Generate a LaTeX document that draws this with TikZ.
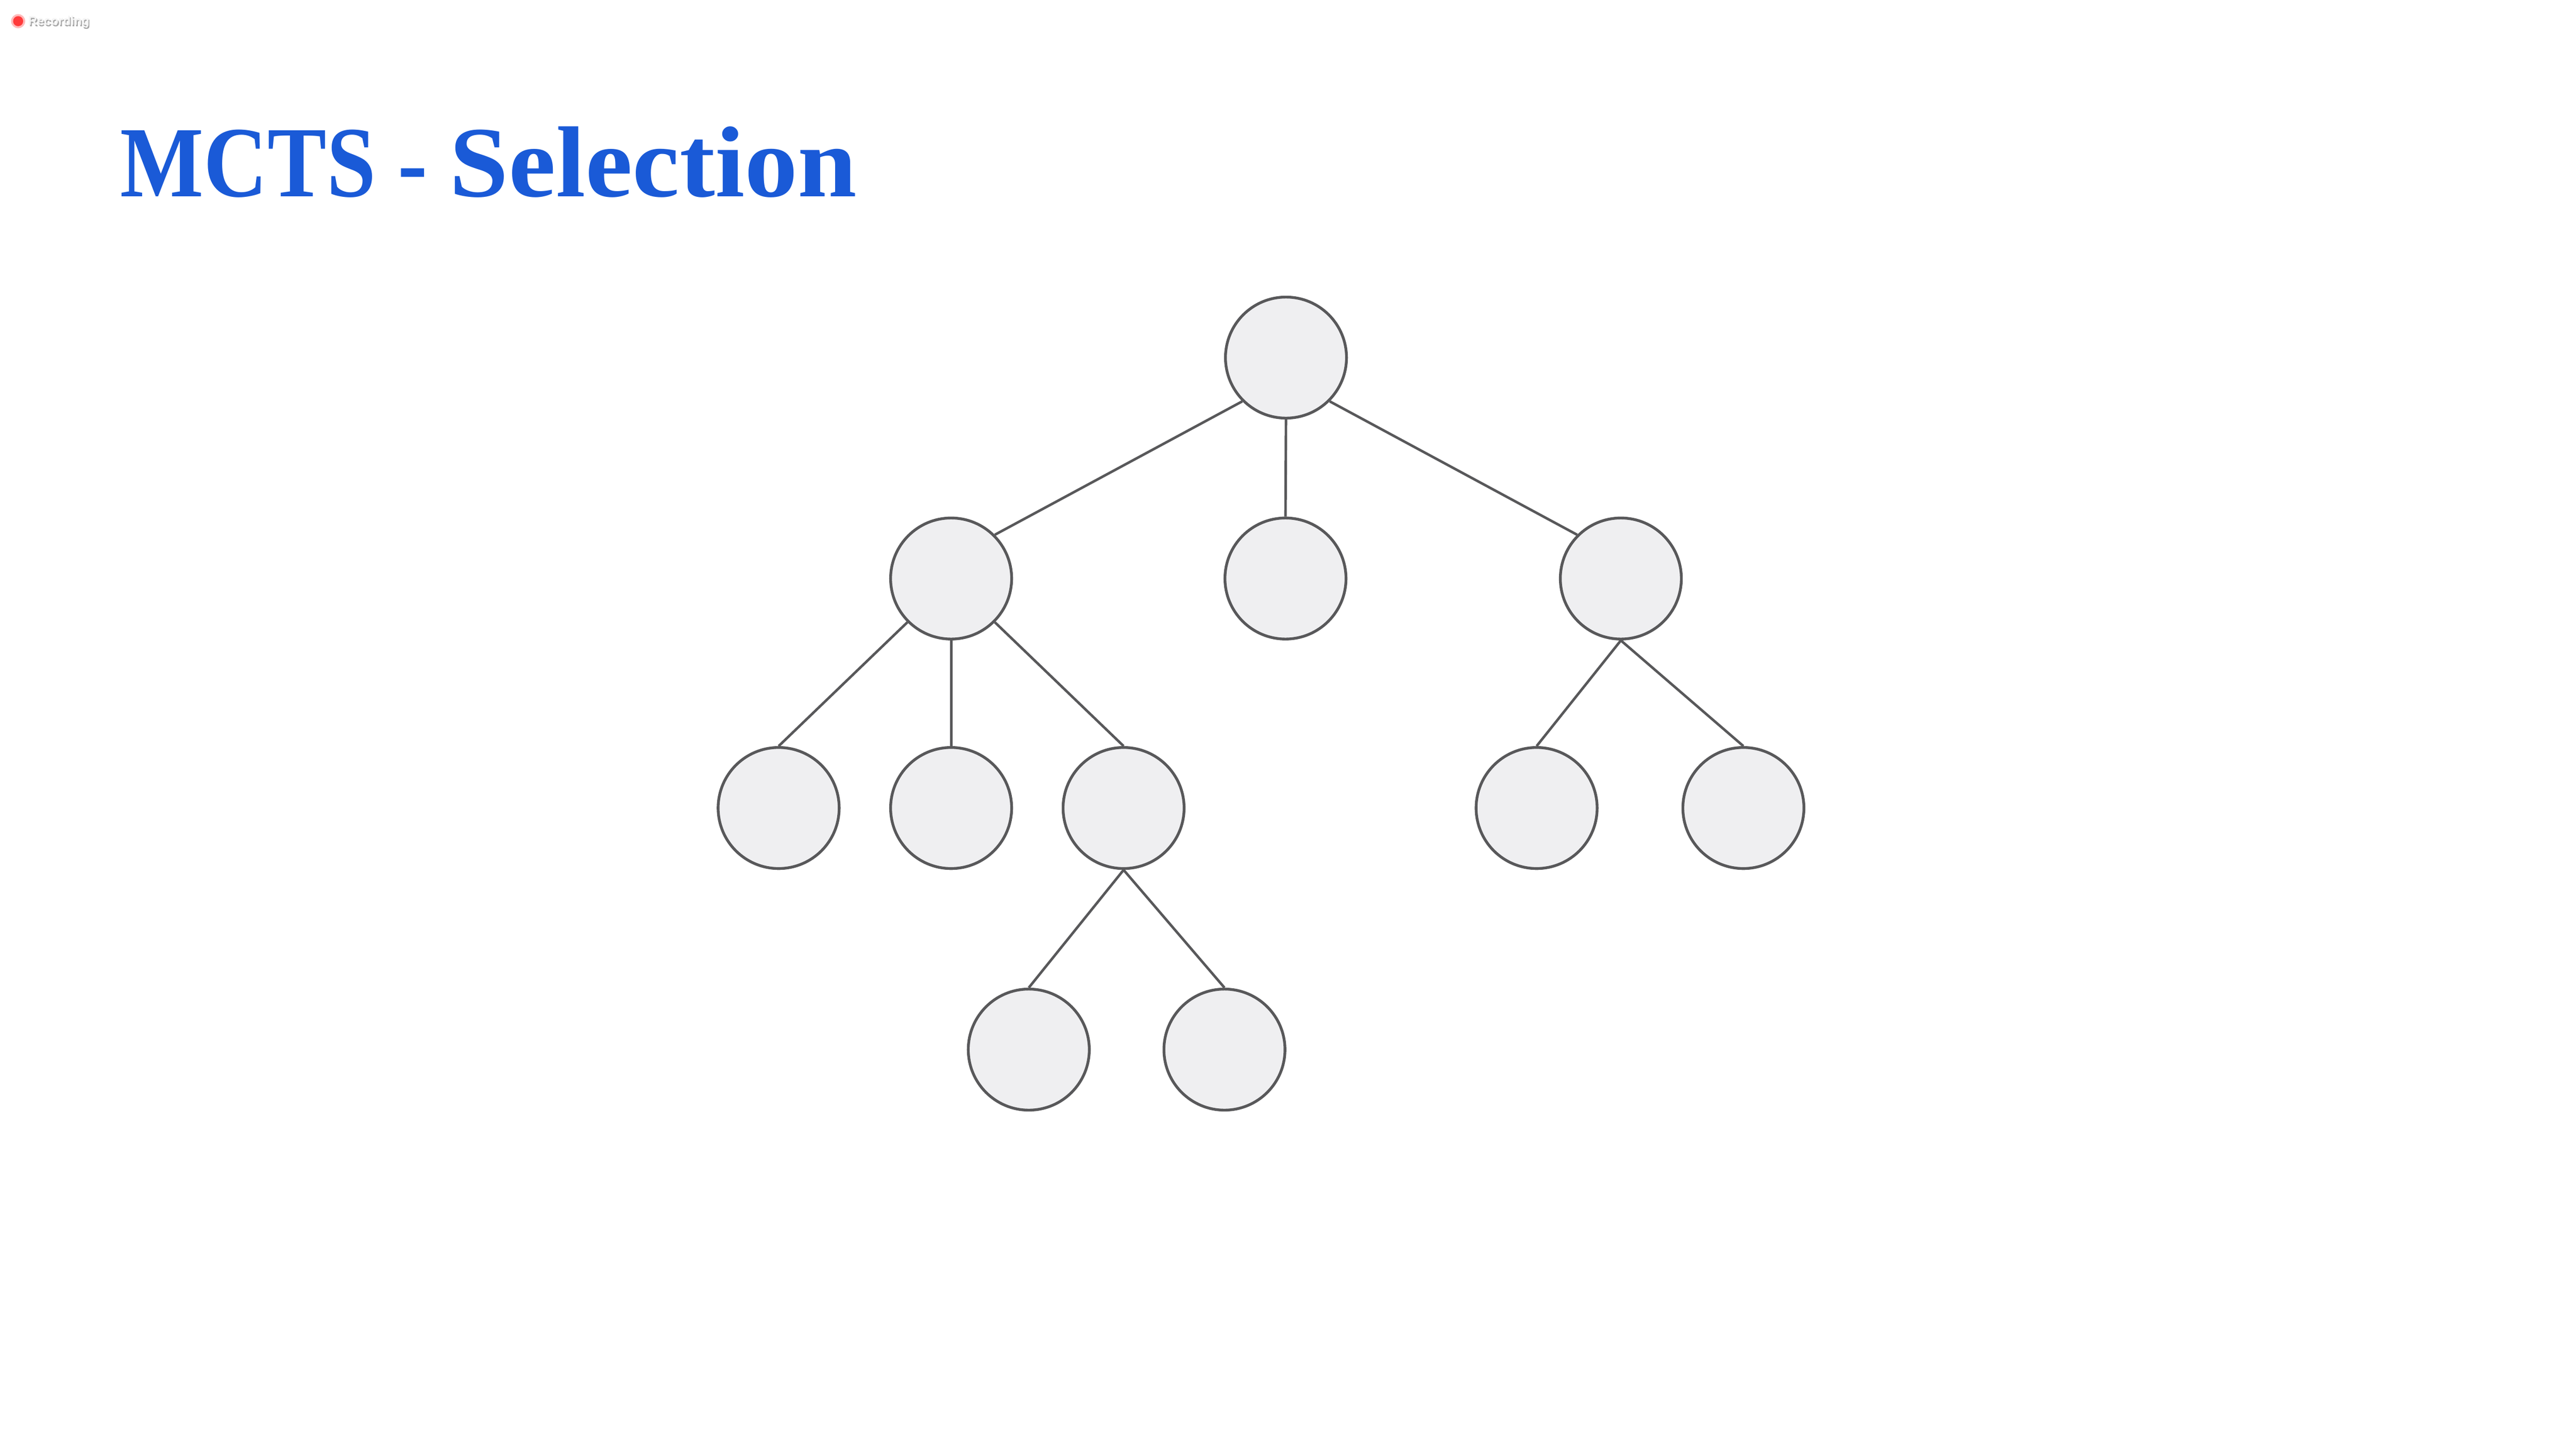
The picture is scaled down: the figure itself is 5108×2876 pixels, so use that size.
\documentclass[tikz,border=0pt]{standalone}
\usepackage{fontspec}
\setmainfont{Liberation Serif}
\newfontfamily\recfont{Liberation Sans}
\definecolor{titleblue}{RGB}{26,90,215}
\definecolor{nodefill}{RGB}{239,239,241}
\definecolor{nodeline}{RGB}{88,88,90}
\definecolor{recred}{RGB}{255,59,59}
\begin{document}
\begin{tikzpicture}[x=0.2pt,y=-0.2pt,
  treenode/.style={circle,draw=nodeline,fill=nodefill,line width=1.1pt,minimum size=48pt,inner sep=0pt},
  edge/.style={draw=nodeline,line width=1pt},
  titletext/.style={anchor=base west,inner sep=0pt,text=titleblue,font=\fontsize{40}{48}\selectfont\bfseries},
  rectext/.style={anchor=base west,inner sep=0pt,font=\recfont\fontsize{4.9}{6}\selectfont\bfseries}]
\useasboundingbox[fill=white] (0,0) rectangle (5108,2876);
% recording indicator
\fill[recred!35] (36,42) circle (14);
\node[circle,fill=recred,minimum size=4pt,inner sep=0pt] (recdot) at (36,42) {};
\node[rectext,text=black!35] (recshadow) at (57,53) {Recording};
\node[rectext,text=white!96!black] (rec) at (55,50) {Recording};
% title
\node[titletext] (title) at (238,390) {\scalebox{0.876}[1]{MCTS}\scalebox{0.88}[1]{\ -\ }\scalebox{1.053}[1]{Selection}};
% tree nodes
\node[treenode] (root) at (2550,709) {};
\node[treenode] (a) at (1886,1147) {};
\node[treenode] (b) at (2549,1147) {};
\node[treenode] (c) at (3214,1147) {};
\node[treenode] (a1) at (1544,1602) {};
\node[treenode] (a2) at (1886,1602) {};
\node[treenode] (a3) at (2228,1602) {};
\node[treenode] (c1) at (3047,1602) {};
\node[treenode] (c2) at (3457,1602) {};
\node[treenode] (d1) at (2040,2081) {};
\node[treenode] (d2) at (2428,2081) {};
% edges
\draw[edge] (root.south west) -- (a.north east);
\draw[edge] (root.south) -- (b.north);
\draw[edge] (root.south east) -- (c.north west);
\draw[edge] (a.south west) -- (a1.north);
\draw[edge] (a.south) -- (a2.north);
\draw[edge] (a.south east) -- (a3.north);
\draw[edge] (c.south) -- (c1.north);
\draw[edge] (c.south) -- (c2.north);
\draw[edge] (a3.south) -- (d1.north);
\draw[edge] (a3.south) -- (d2.north);
\end{tikzpicture}
\end{document}
